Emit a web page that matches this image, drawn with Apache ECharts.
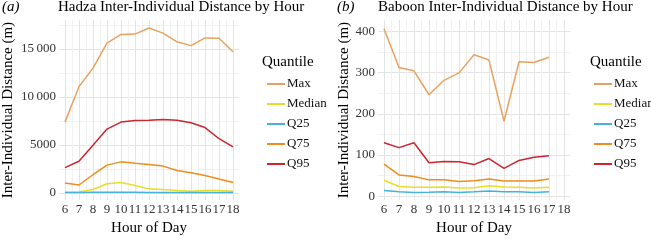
<!DOCTYPE html>
<html lang="en">
<head>
  <meta charset="UTF-8">
  <title>Inter-Individual Distance by Hour</title>
  <script src="https://cdn.jsdelivr.net/npm/echarts@6/dist/echarts.min.js"></script>
  <style>
    html, body { margin: 0; padding: 0; background: #fff; }
  </style>
</head>
<body>
  <div id="app" style="width: 651px; height: 241px;"></div>
  <script>
    // hours on the x axis
    var hadzaHours = [6, 7, 8, 9, 10, 11, 12, 13, 14, 15, 16, 17, 18]
    var baboonHours = [6, 7, 8, 9, 10, 11, 12, 13, 14, 15, 16, 17]
    var hourTicks = [6, 7, 8, 9, 10, 11, 12, 13, 14, 15, 16, 17, 18]
    var hourGrid = [6, 6.5, 7, 7.5, 8, 8.5, 9, 9.5, 10, 10.5, 11, 11.5, 12, 12.5, 13, 13.5, 14, 14.5, 15, 15.5, 16, 16.5, 17, 17.5, 18]

    var quantiles = ['Max', 'Median', 'Q25', 'Q75', 'Q95']
    var colors = ['#E9A25E', '#E8DE2A', '#45B3D9', '#F08C1A', '#C9262F']

    // Hadza (m)
    var hadzaMax = [7370, 11050, 12990, 15600, 16500, 16530, 17170, 16630, 15730, 15330, 16130, 16100, 14690]
    var hadzaMedian = [80, 100, 350, 950, 1080, 780, 420, 350, 250, 180, 250, 250, 180]
    var hadzaQ25 = [40, 50, 60, 70, 70, 60, 50, 50, 50, 50, 50, 50, 50]
    var hadzaQ75 = [1020, 820, 1890, 2890, 3230, 3090, 2960, 2790, 2330, 2090, 1820, 1450, 1080]
    var hadzaQ95 = [2630, 3290, 4960, 6640, 7370, 7540, 7570, 7640, 7570, 7300, 6800, 5640, 4800]
    var hadzaYTicks = [0, 5000, 10000, 15000]
    var hadzaYGrid = [0, 2500, 5000, 7500, 10000, 12500, 15000, 17500]

    // Baboon (m)
    var baboonMax = [406, 312, 304, 246, 281, 299, 343, 330, 182, 326, 324, 337]
    var baboonMedian = [39, 24, 22, 22, 22.5, 20, 21, 25.6, 23, 22, 20, 22]
    var baboonQ25 = [14, 11, 9.5, 10, 11, 9.5, 11, 12.8, 11.5, 11, 9.5, 11]
    var baboonQ75 = [78, 52, 48, 40, 40, 36, 38, 42, 37, 37, 37, 42]
    var baboonQ95 = [130, 118, 130, 81.6, 84.6, 83.9, 77, 91.6, 67.6, 87, 94.6, 98.6]
    var baboonYTicks = [0, 100, 200, 300, 400]
    var baboonYGrid = [0, 50, 100, 150, 200, 250, 300, 350, 400]

    var serif = '"Liberation Serif", "DejaVu Serif", serif'
    var gridColors = ['#e4e4e4', '#f1f1f1']

    function pairs(xs, ys) {
      return xs.map(function (x, i) { return [x, ys[i]] })
    }

    function fmtNum(v) {
      // thin space as thousands separator, like the figure
      if (v >= 10000) return String(v).replace(/(\d)(?=(\d{3})+$)/g, '$1\u2009')
      return String(v)
    }

    function xAxisFor(gridIndex, min, max) {
      return {
        type: 'value', gridIndex: gridIndex, min: min, max: max,
        name: 'Hour of Day', nameLocation: 'middle', nameGap: 17,
        nameTextStyle: { fontFamily: serif, fontSize: 15, color: '#000' },
        axisLine: { show: false },
        axisTick: { show: false, customValues: hourGrid },
        axisLabel: { customValues: hourTicks, margin: 3, fontFamily: serif, fontSize: 13, color: '#333' },
        splitLine: { show: true, lineStyle: { color: gridColors, width: 1 } }
      }
    }

    function yAxisFor(gridIndex, min, max, ticks, gridVals, gap) {
      return {
        type: 'value', gridIndex: gridIndex, min: min, max: max,
        name: 'Inter-Individual Distance (m)', nameLocation: 'middle', nameGap: gap,
        nameTextStyle: { fontFamily: serif, fontSize: 15, color: '#000' },
        axisLine: { show: false },
        axisTick: { show: false, customValues: gridVals },
        axisLabel: { customValues: ticks, margin: 3, fontFamily: serif, fontSize: 13, color: '#333', formatter: fmtNum },
        splitLine: { show: true, lineStyle: { color: gridColors, width: 1 } }
      }
    }

    function lineSeries(name, idx, gridIndex, xs, ys) {
      return {
        name: name, type: 'line', xAxisIndex: gridIndex, yAxisIndex: gridIndex,
        data: pairs(xs, ys), showSymbol: false, symbol: 'none', animation: false,
        lineStyle: { color: colors[idx], width: 1.5 }, itemStyle: { color: colors[idx] }
      }
    }

    var hadzaSets = [hadzaMax, hadzaMedian, hadzaQ25, hadzaQ75, hadzaQ95]
    var baboonSets = [baboonMax, baboonMedian, baboonQ25, baboonQ75, baboonQ95]
    var series = []
    quantiles.forEach(function (q, i) { series.push(lineSeries(q, i, 0, hadzaHours, hadzaSets[i])) })
    quantiles.forEach(function (q, i) { series.push(lineSeries(q, i, 1, baboonHours, baboonSets[i])) })

    function legendFor(left) {
      return {
        orient: 'vertical', left: left, top: 72, data: quantiles,
        icon: 'rect', itemWidth: 18, itemHeight: 2, itemGap: 6,
        selectedMode: false,
        textStyle: { fontFamily: serif, fontSize: 13, color: '#111', lineHeight: 14, padding: [0, 0, 0, -3] }
      }
    }

    function label(text, left, size, italic) {
      return {
        text: text, left: left, top: 0, padding: 0,
        textStyle: { fontFamily: serif, fontSize: size, fontWeight: 'normal', fontStyle: italic ? 'italic' : 'normal', color: '#000' }
      }
    }

    var app = document.querySelector('#app')
    var mCharts = echarts.init(app, null, { renderer: 'canvas' })
    var option = {
      animation: false,
      title: [
        label('(a)', 2, 15, true),
        label('Hadza Inter-Individual Distance by Hour', 58, 15, false),
        label('(b)', 337, 15, true),
        label('Baboon Inter-Individual Distance by Hour', 378, 15, false),
        { text: 'Quantile', left: 262, top: 55, padding: 0, textStyle: { fontFamily: serif, fontSize: 15, fontWeight: 'normal', color: '#000' } },
        { text: 'Quantile', left: 590, top: 55, padding: 0, textStyle: { fontFamily: serif, fontSize: 15, fontWeight: 'normal', color: '#000' } }
      ],
      legend: [legendFor(262), legendFor(589)],
      grid: [
        { left: 58, top: 20, width: 181, height: 187 },
        { left: 378, top: 20, width: 192, height: 187 }
      ],
      xAxis: [xAxisFor(0, 5.575, 18.425), xAxisFor(1, 5.6, 18.4)],
      yAxis: [
        yAxisFor(0, -750, 18000, hadzaYTicks, hadzaYGrid, 43),
        yAxisFor(1, -9, 427, baboonYTicks, baboonYGrid, 24)
      ],
      series: series
    }
    mCharts.setOption(option)
  </script>
</body>
</html>
